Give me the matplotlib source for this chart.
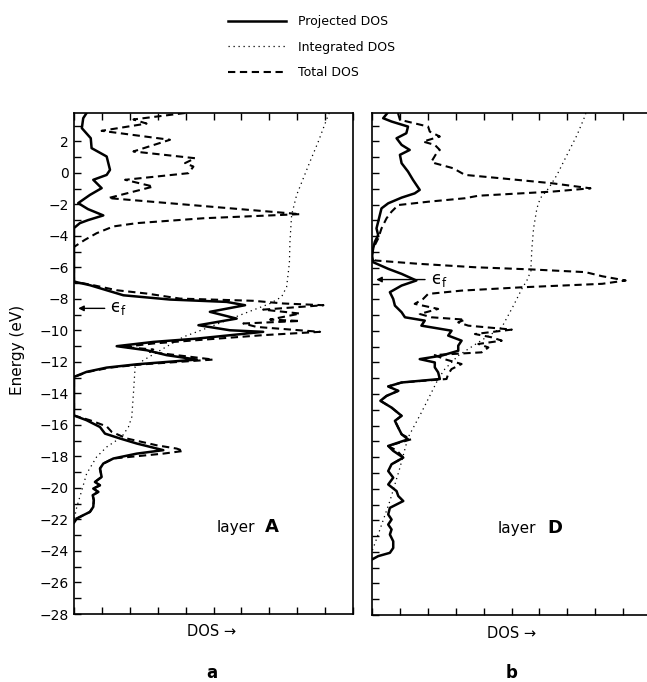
import matplotlib.pyplot as plt
from matplotlib.ticker import MultipleLocator

# ---- layer A (panel a) ----
a_proj_e = [3.8, 3.47, 2.84, 2.2, 1.57, 1.04, 0.19, -0.13, -0.44, -0.97, -1.4, -1.92, -2.3, -2.7, -3.0,
            -3.19, -3.5, -6.9, -7.13, -7.45, -7.77, -8.04, -8.19, -8.4, -8.82, -9.25, -9.67, -9.99, -10.09,
            -10.52, -10.73, -11.0, -11.26, -11.57, -11.85, -12.15, -12.36, -12.63, -12.95, -15.4, -15.7,
            -16.13, -16.55, -16.86, -17.18, -17.6, -17.82, -18.13, -18.45, -18.77, -19.3, -19.62, -19.83,
            -20.04, -20.25, -20.46, -20.78, -21.2, -21.52, -21.73, -21.94, -22.2]
a_proj = [0.45, 0.33, 0.28, 0.6, 0.63, 1.17, 1.29, 1.17, 0.69, 0.99, 0.57, 0.15, 0.5, 1.05, 0.5,
          0.21, 0, 0, 0.57, 1.17, 1.77, 3.44, 5.47, 6.13, 4.87, 5.83, 4.46, 5.59, 6.78,
          4.4, 2.84, 1.53, 2.61, 3.32, 4.4, 2.25, 1.17, 0.45, 0, 0, 0.45,
          0.93, 1.11, 1.65, 2.25, 3.2, 2.25, 1.41, 1.05, 0.93, 0.99, 0.75, 0.93,
          0.69, 0.87, 0.67, 0.71, 0.69, 0.57, 0.33, 0.1, 0]

a_tot_e = [3.8, 3.39, 3.13, 2.67, 2.1, 1.36, 0.93, 0.62, 0.4, -0.02, -0.44, -0.87, -1.6, -2.62, -2.88,
           -3.19, -3.4, -3.83, -4.25, -4.7, -6.9, -7.13, -7.45, -7.66, -7.98, -8.12, -8.29, -8.4, -8.68,
           -8.93, -9.31, -9.4, -9.56, -9.78, -10.09, -10.3, -10.62, -10.83, -11.05, -11.21, -11.37,
           -11.57, -11.85, -12.15, -12.36, -12.63, -12.95, -15.4, -15.7, -16.09, -16.44, -16.86, -17.29,
           -17.5, -17.65, -17.82, -18.13, -18.45, -18.77, -19.3, -19.62, -19.83, -20.04, -20.25, -20.46,
           -20.78, -21.2, -21.52, -21.73, -21.94, -22.2]
a_tot = [3.98, 2.13, 2.6, 0.99, 3.44, 2.13, 4.34, 3.98, 4.28, 4.1, 1.83, 2.84, 1.23, 8.1, 4.64,
         2.25, 1.41, 0.81, 0.39, 0, 0, 0.69, 1.53, 2.61, 3.8, 6.43, 7.5, 8.94, 6.78,
         8.1, 7.03, 8.1, 6.07, 6.55, 8.82, 6.78, 4.4, 2.84, 1.77, 2.84, 2.72,
         3.68, 4.99, 2.48, 1.29, 0.51, 0, 0, 0.57, 1.17, 1.35, 1.89, 2.96,
         3.68, 3.92, 3.2, 1.41, 1.05, 0.93, 0.99, 0.75, 0.93, 0.69, 0.87, 0.67,
         0.71, 0.69, 0.57, 0.33, 0.1, 0]

a_int_e = [3.8, 3.7, 2.0, 0.72, -0.34, -1.4, -2.67, -4.36, -5.73, -7.24, -7.87, -8.29, -9.03, -9.78,
           -10.41, -11.15, -11.9, -12.32, -14.0, -15.5, -16.13, -16.76, -17.4, -18.03, -19.1, -20.15,
           -21.2, -21.8, -22.3]
a_int = [9.15, 9.12, 8.76, 8.46, 8.22, 7.98, 7.8, 7.74, 7.72, 7.62, 7.44, 7.03, 5.95, 4.87,
         3.92, 3.2, 2.48, 2.19, 2.13, 2.07, 1.95, 1.71, 1.17, 0.81, 0.45, 0.28,
         0.1, 0.03, 0]

# ---- layer D (panel b) ----
b_proj_e = [3.8, 3.73, 3.47, 3.26, 2.94, 2.52, 2.2, 1.78, 1.46, 1.15, 0.62, 0.09, -0.44, -1.07, -1.29,
            -1.56, -1.92, -2.24, -2.66, -3.09, -3.51, -3.93, -4.36, -4.78, -5.2, -5.65, -6.07, -6.39,
            -6.81, -7.13, -7.55, -7.98, -8.4, -8.82, -9.14, -9.35, -9.67, -9.99, -10.3, -10.62, -10.94,
            -11.26, -11.57, -11.79, -12.0, -12.31, -12.63, -13.05, -13.27, -13.52, -13.8, -14.12, -14.43,
            -14.86, -15.38, -15.7, -16.13, -16.55, -16.87, -17.29, -17.6, -18.03, -18.45, -18.88, -19.3,
            -19.73, -20.15, -20.46, -20.78, -21.21, -21.63, -21.95, -22.27, -22.58, -22.9, -23.33, -23.75,
            -24.06, -24.27, -24.48]
b_proj = [0.55, 0.52, 0.4, 0.7, 1.29, 1.23, 0.88, 1.06, 1.35, 1.0, 1.06, 1.29, 1.47, 1.71, 1.53,
          1.06, 0.58, 0.34, 0.28, 0.22, 0.16, 0.22, 0.1, 0.04, 0, 0.04, 0.58, 1.06,
          1.59, 1.06, 0.64, 0.76, 0.82, 1.06, 1.18, 1.89, 1.77, 2.85, 2.73, 3.21, 3.09,
          3.09, 2.49, 1.71, 2.25, 2.25, 2.37, 2.43, 1.06, 0.58, 0.94, 0.52, 0.3,
          0.7, 1.06, 0.82, 0.94, 1.06, 1.29, 0.58, 0.76, 1.12, 0.7, 0.58, 0.76,
          0.58, 0.88, 0.94, 1.12, 0.64, 0.58, 0.7, 0.58, 0.7, 0.64, 0.76, 0.76,
          0.64, 0.22, 0]

b_tot_e = [3.8, 3.73, 3.37, 2.94, 2.62, 2.31, 1.99, 1.78, 1.46, 1.25, 0.72, 0.62, 0.3, -0.12, -0.34,
           -0.65, -0.97, -1.18, -1.44, -1.6, -1.82, -2.03, -2.45, -2.87, -3.51, -4.15, -4.78, -5.3,
           -5.54, -5.75, -5.97, -6.11, -6.28, -6.54, -6.81, -7.02, -7.24, -7.45, -7.66, -7.98, -8.29,
           -8.61, -8.93, -9.14, -9.29, -9.46, -9.67, -9.92, -10.2, -10.41, -10.62, -10.83, -11.05,
           -11.36, -11.53, -11.79, -12.1, -12.42, -12.74, -13.05, -13.27, -13.52, -13.8, -14.12,
           -14.43, -14.86, -15.38, -15.7, -16.13, -16.55, -16.87, -17.29, -17.6, -18.03, -18.45]
b_tot = [0.94, 0.94, 1.0, 2.01, 2.07, 2.43, 1.83, 2.25, 2.43, 2.31, 2.13, 2.25, 2.91, 3.33, 4.65,
         6.45, 7.83, 6.45, 3.81, 3.33, 2.01, 0.94, 0.7, 0.52, 0.34, 0.22, 0.04, 0,
         0.1, 1.65, 3.69, 5.73, 7.65, 8.25, 9.09, 8.25, 5.37, 3.21, 2.01, 1.83, 1.53,
         2.37, 1.71, 2.13, 3.33, 3.09, 3.45, 5.01, 3.69, 4.29, 4.65, 3.81, 4.17,
         3.93, 2.25, 2.59, 3.21, 2.85, 2.73, 2.67, 1.06, 0.58, 0.94, 0.52,
         0.3, 0.7, 1.06, 0.82, 0.94, 1.06, 1.4, 0.58, 0.9, 1.12, 0.7]

b_int_e = [3.8, 3.68, 2.41, 1.15, -0.12, -0.97, -1.6, -2.24, -3.51, -4.78, -5.84, -6.18, -6.81, -7.34,
           -8.4, -9.78, -10.73, -11.57, -12.42, -13.05, -14.12, -15.17, -16.76, -18.67, -20.78,
           -22.9, -23.96]
b_int = [7.66, 7.65, 7.35, 6.99, 6.63, 6.33, 6.03, 5.91, 5.79, 5.73, 5.7, 5.7, 5.55, 5.37,
         5.07, 4.65, 3.81, 3.09, 2.61, 2.37, 2.07, 1.77, 1.29, 1.0, 0.64,
         0.22, 0]

# fermi level: energy, arrow tail x, label x
ef_a = (-8.6, 1.2, 1.3)
ef_b = (-6.75, 2.0, 2.1)

fig = plt.figure(figsize=(6.47, 6.82), dpi=100)
ax_a = fig.add_axes([0.1144, 0.0997, 0.4312, 0.7346])
ax_b = fig.add_axes([0.575, 0.0982, 0.4312, 0.7361])

panels = [
    (ax_a, a_proj_e, a_proj, a_int_e, a_int, a_tot_e, a_tot, ef_a, 'A', 5.1, 6.85),
    (ax_b, b_proj_e, b_proj, b_int_e, b_int, b_tot_e, b_tot, ef_b, 'D', 4.5, 6.3),
]

handles = None
for ax, pe, p, ie, i, te, t, ef, name, lx, nx in panels:
    l_tot, = ax.plot(t, te, color='black', lw=1.5, dashes=(3.5, 2.2), label='Total DOS')
    l_int, = ax.plot(i, ie, color='black', lw=0.9, linestyle=(0, (1, 3)), label='Integrated DOS')
    l_proj, = ax.plot(p, pe, color='black', lw=1.8, label='Projected DOS')
    if handles is None:
        handles = [l_proj, l_int, l_tot]

    ax.set_xlim(0, 10)
    ax.set_ylim(-28, 3.8)
    ax.xaxis.set_major_locator(MultipleLocator(1))
    ax.yaxis.set_major_locator(MultipleLocator(2))
    ax.yaxis.set_minor_locator(MultipleLocator(1))
    ax.tick_params(axis='x', which='both', direction='in', top=True, bottom=True,
                   labelbottom=False, length=5, width=1)
    ax.tick_params(axis='y', which='both', direction='in', left=True, right=False,
                   length=5, width=1, labelsize=10)
    for s in ax.spines.values():
        s.set_linewidth(1.2)

    e, tail, tx = ef
    ax.annotate('', xy=(0.05, e), xytext=(tail, e),
                arrowprops=dict(arrowstyle='-|>', color='black', lw=1, mutation_scale=8))
    ax.text(tx, e, '$\\mathrm{\u03f5}_\\mathrm{f}$', fontsize=12, va='center', ha='left')

    ax.text(lx, -22.5, 'layer', fontsize=11, va='center', ha='left')
    ax.text(nx, -22.5, name, fontsize=13, fontweight='bold', va='center', ha='left')

ax_b.tick_params(axis='y', labelleft=False)

fig.text(18 / 647, 1 - 350 / 682, 'Energy (eV)', rotation=90, fontsize=11,
         ha='center', va='center')
fig.text(212 / 647, 1 - 632 / 682, 'DOS \u2192', fontsize=10.5, ha='center', va='center')
fig.text(512 / 647, 1 - 633 / 682, 'DOS \u2192', fontsize=10.5, ha='center', va='center')
fig.text(212 / 647, 1 - 673 / 682, 'a', fontsize=12, fontweight='bold', ha='center', va='center')
fig.text(512 / 647, 1 - 673 / 682, 'b', fontsize=12, fontweight='bold', ha='center', va='center')

fig.legend(handles, [h.get_label() for h in handles], loc='upper left',
           bbox_to_anchor=(217 / 647, 1 - 4 / 682), frameon=False, fontsize=9,
           handlelength=4.6, handletextpad=1.0, labelspacing=1.0)

fig.savefig('out.png', dpi=100)
